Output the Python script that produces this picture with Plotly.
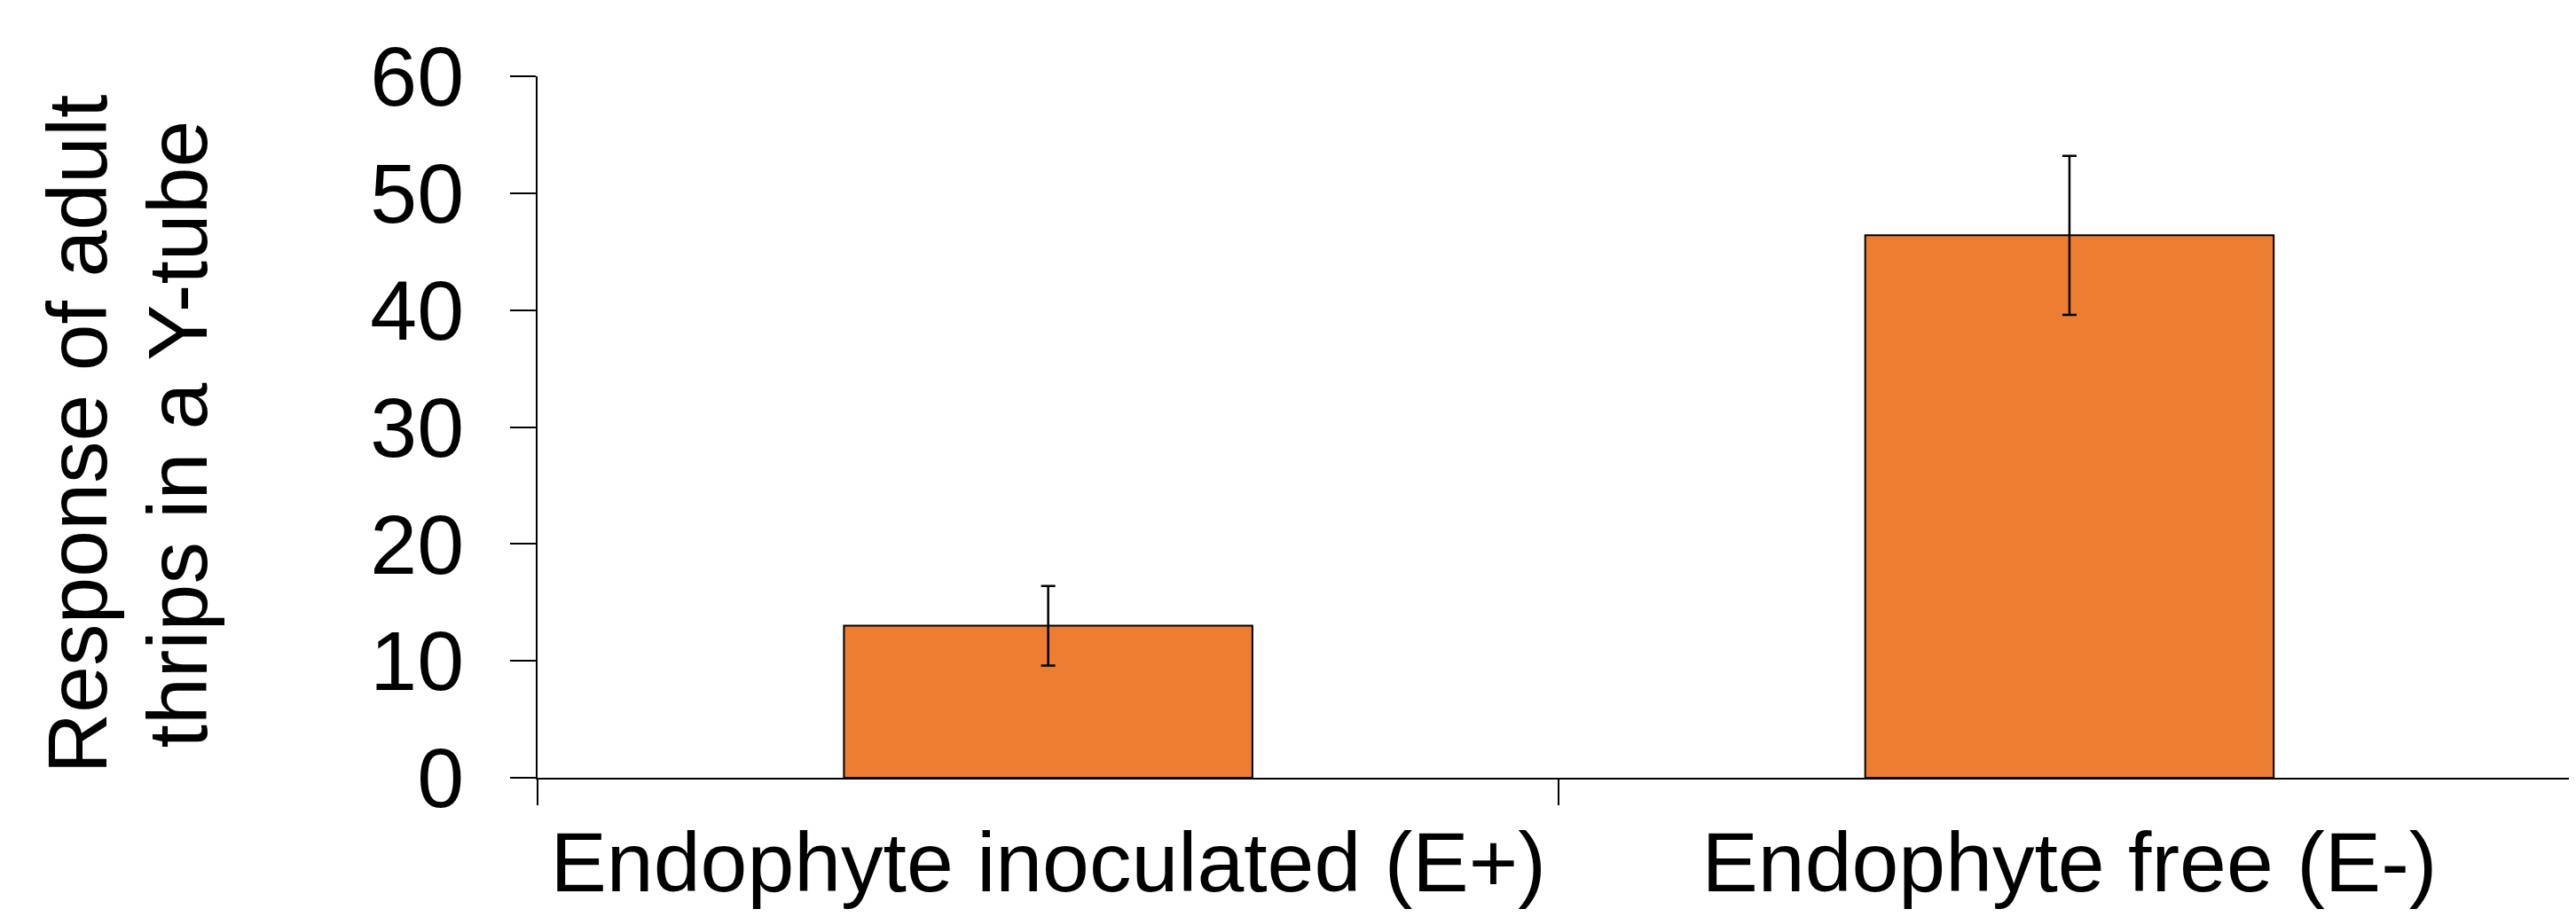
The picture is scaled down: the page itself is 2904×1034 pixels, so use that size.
import plotly.graph_objects as go

categories = ["Endophyte inoculated (E+)", "Endophyte free (E-)"]
values = [13.0, 46.4]
errors = [3.4, 6.8]
y_ticks = [0, 10, 20, 30, 40, 50, 60]
y_title_lines = ["Response of adult", "thrips in a Y-tube"]

# page has an 8px body margin; size the figure so it fills the window exactly
OFF = 8
W, H = 2904 - OFF, 1034 - OFF
ML, MR, MT, MB = 606 - OFF, 0, 86 - OFF, 157
FONT = "Liberation Sans, Arial, sans-serif"
FS = 95

fig = go.Figure()
fig.add_trace(go.Bar(
    x=categories, y=values, width=0.4,
    marker=dict(color="#ED7D31", line=dict(color="black", width=2)),
    error_y=dict(type="data", array=errors, visible=True, color="black",
                 thickness=2.5, width=8),
))

pw = W - ML - MR
def px_to_paper_x(px):
    return (px - OFF - ML) / pw

title_centers = [87, 200]
for txt, cx in zip(y_title_lines, title_centers):
    fig.add_annotation(text=txt, xref="paper", yref="paper",
                       x=px_to_paper_x(cx), y=0.49, xanchor="center", yanchor="middle",
                       textangle=-90, showarrow=False,
                       font=dict(family=FONT, size=FS, color="black"))

fig.update_layout(
    width=W, height=H, template="none",
    margin=dict(l=ML, r=MR, t=MT, b=MB, pad=0),
    paper_bgcolor="white", plot_bgcolor="white",
    showlegend=False,
    font=dict(family=FONT, size=FS, color="black"),
    xaxis=dict(range=[-0.5, 1.496], showline=True, linecolor="black", linewidth=2,
               ticks="outside", tickson="boundaries", ticklen=29, tickwidth=2,
               tickcolor="black", showgrid=False, zeroline=False, automargin=False,
               ticklabelstandoff=12,
               tickfont=dict(family=FONT, size=FS, color="black")),
    yaxis=dict(range=[0, 60], tickvals=y_ticks, showline=True, linecolor="black",
               linewidth=2, ticks="outside", ticklen=29, tickwidth=2, tickcolor="black",
               showgrid=False, zeroline=False, automargin=False,
               ticklabelstandoff=33,
               tickfont=dict(family=FONT, size=FS, color="black")),
)

fig.write_html("out.html")
